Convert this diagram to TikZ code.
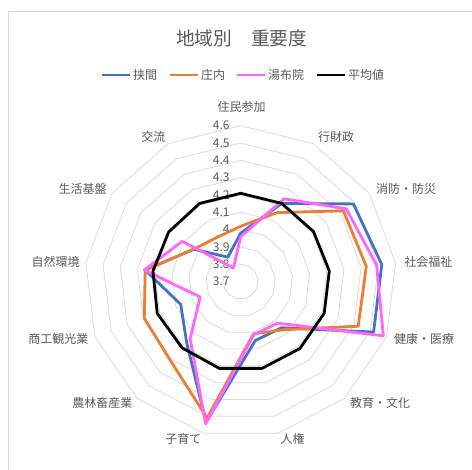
\documentclass[tikz,border=0pt]{standalone}
\usepackage{fontspec}
\setmainfont{Noto Sans CJK JP}
\usepackage{xcolor}
\usetikzlibrary{positioning}
\definecolor{hazamacol}{HTML}{4472C4}
\definecolor{shonaicol}{HTML}{ED7D31}
\definecolor{yufuincol}{HTML}{FF66FF}
\definecolor{gridgray}{HTML}{D9D9D9}
\definecolor{txtgray}{HTML}{595959}
% one value per axis, clockwise from the top
\newcommand\radarseries[2]{%
    \foreach \v [count=\k from 0] in {#2}
    {
        \coordinate (#1\k) at ({-90+\k*360/13}:{(\v-3.7)*173.33});
    }
}
\tikzset{
        lbl/.style={text=txtgray, font=\fontsize{12bp}{14bp}\selectfont, inner sep=0pt},
        ring/.style={draw=gridgray, line width=0.75bp},
        series/.style={line width=2.8bp, line join=round},
    }

\begin{document}
\begin{tikzpicture}[x = 1bp, y = -1bp]
                \useasboundingbox (0,0) rectangle (472,470);
                \draw[gridgray, line width=0.75bp] (8.5,480) -- (8.5,11.5) -- (480,11.5);
                \node[lbl, font=\fontsize{18.7bp}{22bp}\selectfont] (title) at (241.7,38.3) {地域別　重要度};
                % legend
                \foreach \xa/\col/\name/\txt in {102/hazamacol/lgHz/挟間, 170/shonaicol/lgSn/庄内, 237/yufuincol/lgYf/湯布院, 317/black/lgAv/平均値}
                {
                    \coordinate (\name a) at (\xa,75);
                    \coordinate (\name b) at (\xa+28,75);
                    \draw[\col, line width=2.8bp] (\name a) -- (\name b);
                    \node[lbl, right=3bp of \name b] (\name) {\txt};
                }
                % axis labels
                \foreach \x/\y/\name/\txt in {241.7/107.3/cJumin/住民参加, 336/137.3/cGyozai/行財政,
                    406/189/cShobo/消防・防災, 428.3/261.7/cFukushi/社会福祉, 424/339.3/cKenko/健康・医療,
                    380/403.3/cKyoiku/教育・文化, 292.7/439.3/cJinken/人権, 183.3/439.3/cKosodate/子育て,
                    102.3/403.3/cNorin/農林畜産業, 58.3/339.3/cShoko/商工観光業, 55.7/261.7/cShizen/自然環境,
                    82.7/189/cSeikatsu/生活基盤, 153.3/137.3/cKoryu/交流}
                    \node[lbl] (\name) at (\x,\y) {\txt};
                \begin{scope}[shift={(240.7,281.7)}]
                    \foreach \i in {1,...,9}
                        \draw[ring] (-90:\i*17.333) \foreach \k in {1,...,12} { -- ({-90+\k*360/13}:\i*17.333)} -- cycle;
                    \foreach \t [count=\i from 0] in {3.7,3.8,3.9,4,4.1,4.2,4.3,4.4,4.5,4.6}
                        \node[lbl, anchor=east] (tick\i) at (-11,-\i*17.333) {\t};
                    \radarseries{hz}{3.98,4.21,4.49,4.52,4.52,4.055,4.05,4.535,4.17,4.07,4.255,4.03,3.86}
                    \radarseries{sn}{4.02,4.15,4.42,4.43,4.425,4.07,4.01,4.51,4.31,4.295,4.255,4.03,3.99}
                    \radarseries{yf}{3.96,4.24,4.44,4.49,4.58,4.02,4.015,4.545,4.14,3.95,4.26,4.11,3.79}
                    \radarseries{av}{4.21,4.21,4.21,4.215,4.215,4.215,4.215,4.215,4.21,4.215,4.21,4.205,4.21}
                    \draw[series, hazamacol] (hz0) \foreach \k in {1,...,12} { -- (hz\k)} -- cycle;
                    \draw[series, shonaicol] (sn0) \foreach \k in {1,...,12} { -- (sn\k)} -- cycle;
                    \draw[series, yufuincol] (yf0) \foreach \k in {1,...,12} { -- (yf\k)} -- cycle;
                    \draw[series, black] (av0) \foreach \k in {1,...,12} { -- (av\k)} -- cycle;
                \end{scope}
            \end{tikzpicture}
\end{document}
